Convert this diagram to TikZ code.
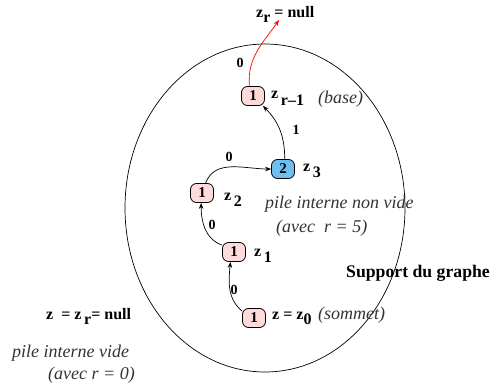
\documentclass[tikz,border=0pt]{standalone}
\usepackage{fontspec}
\setmainfont{Liberation Serif}
\usetikzlibrary{arrows.meta}
\definecolor{pinkfill}{RGB}{255,218,218}
\definecolor{bluefill}{RGB}{110,190,240}
\begin{document}
\begin{tikzpicture}[x=1pt,y=-1pt,
  cell/.style={draw,rounded corners=6pt,line width=0.8pt,minimum width=23pt,minimum height=19pt,inner sep=0pt,font=\fontsize{15}{15}\selectfont\bfseries},
  pk/.style={cell,fill=pinkfill},
  bl/.style={cell,fill=bluefill},
  lbl/.style={font=\fontsize{14}{14}\selectfont\bfseries,inner sep=0pt},
  zl/.style={font=\fontsize{16}{16}\selectfont\bfseries,inner sep=0pt,anchor=west},
  it/.style={font=\fontsize{18}{18}\selectfont\itshape,inner sep=0pt,text=black!80},
  arr/.style={-{Stealth[length=6pt,width=4.5pt]},line width=0.7pt}
]
\useasboundingbox (0,0) rectangle (493,388);
\draw[line width=0.7pt] (265,208) ellipse [x radius=140, y radius=164];

\node[pk] (r1) at (253,96) {1};
\node[bl] (z3) at (283,169) {2};
\node[pk] (z2) at (202,193) {1};
\node[pk] (z1) at (234,252) {1};
\node[pk] (z0) at (254,318) {1};
\coordinate (top) at (279,20);

\draw[arr] (z0.150) to[out=140,in=-95] (z1.250);
\draw[arr] (z1.150) to[out=160,in=-90] (z2.265);
\draw[arr] (z2.70) to[out=70,in=180] (z3.180);
\draw[arr] (z3.80) to[out=90,in=-45] (r1.315);
\draw[arr,red] (r1.110) to[out=95,in=-125] (top);

\node[lbl] (l0) at (240,63) {0};
\node[lbl] (l1) at (296,130) {1};
\node[lbl] (l2) at (229,157) {0};
\node[lbl] (l3) at (212,225) {0};
\node[lbl] (l4) at (234,290) {0};

\node[zl] (tzr) at (256,14) {z\raisebox{-5pt}{r} = null};
\node[zl] (tr1) at (271,98) {z\,\raisebox{-7pt}{r--1}};
\node[it,anchor=west] (tbase) at (318,99) {(base)};
\node[zl] (t3) at (303,171) {z\,\raisebox{-6pt}{3}};
\node[zl] (t2) at (224,200) {z\,\raisebox{-6pt}{2}};
\node[zl] (t1) at (254,256) {z\,\raisebox{-6pt}{1}};
\node[zl] (t0) at (272,318) {z = z\raisebox{-5pt}{0}};
\node[it,anchor=west] (tsom) at (318,315) {(sommet)};
\node[it,anchor=west] (tpile) at (265,204) {pile interne non vide};
\node[it,anchor=west] (tavec) at (276,228) {(avec\ \ r = 5)};
\node[font=\fontsize{17.7}{17.7}\selectfont\bfseries,inner sep=0pt,anchor=west] (tsup) at (346,273) {Support du graphe};
\node[zl] (tz) at (46,316) {z\ \ = z\,\raisebox{-5pt}{r}= null};
\node[it,anchor=west] (tvide) at (12,353) {pile interne vide};
\node[it,anchor=west] (tavec0) at (48,375) {(avec r = 0)};
\end{tikzpicture}
\end{document}
